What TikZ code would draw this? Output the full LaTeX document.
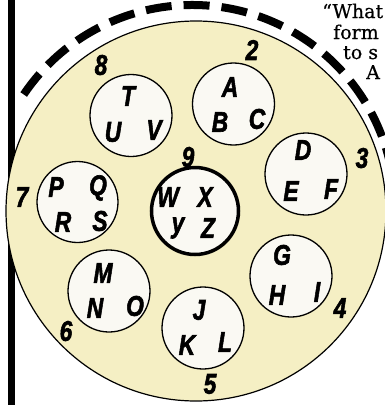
\documentclass[tikz,border=0pt]{standalone}
\usepackage{fontspec}
\newfontfamily\handfont[BoldItalicFeatures={FakeBold=2.2}]{Liberation Sans}
\newfontfamily\slabfont[FakeBold=0.6]{DejaVu Serif}
\definecolor{discc}{RGB}{245,239,196}
\definecolor{holec}{RGB}{250,249,243}
\newcommand\glyph[3]{\node[lettr] (#1) at (#2) {\scalebox{0.8}[1]{#3}};}
\begin{document}
\begin{tikzpicture}[x=1pt,y=-1pt,
  lettr/.style={font=\handfont\bfseries\itshape\fontsize{28.5}{28.5}\selectfont, inner sep=0pt},
  hole/.style={circle, draw, line width=1.3pt, fill=holec, minimum size=82pt, inner sep=0pt},
  slab/.style={font=\slabfont\fontsize{19}{19}\selectfont, inner sep=0pt, anchor=base west},
  dashring/.style={line width=8pt, dash pattern=on 26pt off 12pt}]
\useasboundingbox (0,0) rectangle (385,405);
\clip (0,0) rectangle (385,405);
\fill[white] (0,0) rectangle (385,405);
% left bar
\draw[line width=7pt] (11,0) -- (11,405);
% dashed ring
\draw[dashring] (192,208) ++(-146:203) arc[start angle=-146, end angle=10, radius=203];
% disc
\node[circle, draw, line width=1.2pt, fill=discc, minimum size=380pt, inner sep=0pt] (disc) at (196,211) {};
% holes
\node[hole] (abc) at (233.5,104) {};
\node[hole] (tuv) at (131,115.5) {};
\node[hole] (def) at (306,174) {};
\node[hole, minimum size=81pt] (pqrs) at (77.5,202) {};
\node[hole, line width=3.5pt, minimum size=87pt] (wxyz) at (195,211) {};
\node[hole] (mno) at (109,291) {};
\node[hole] (jkl) at (203,328) {};
\node[hole] (ghi) at (291,276) {};
% letters
\glyph{lA}{230,87}{A}
\glyph{lB}{220,122}{B}
\glyph{lC}{257,119}{C}
\glyph{lT}{128,96}{T}
\glyph{lU}{113,132}{U}
\glyph{lV}{154,130}{V}
\glyph{lD}{303,150}{D}
\glyph{lE}{291,191}{E}
\glyph{lF}{331,189}{F}
\glyph{lP}{56,187}{P}
\glyph{lQ}{98,188}{Q}
\glyph{lR}{63,222}{R}
\glyph{lS}{100,221}{S}
\glyph{lW}{168,197}{W}
\glyph{lX}{205,197}{X}
\glyph{lY}{178,228}{y}
\glyph{lZ}{208,228}{Z}
\glyph{lM}{103,273}{M}
\glyph{lN}{95,308}{N}
\glyph{lO}{135,306}{O}
\glyph{lJ}{199,310}{J}
\glyph{lK}{187,345}{K}
\glyph{lL}{225,342}{L}
\glyph{lG}{282,255}{G}
\glyph{lH}{277,295}{H}
\glyph{lI}{317,292}{I}
% numbers
\glyph{n2}{252,50}{2}
\glyph{n3}{362,158}{3}
\glyph{n4}{340,308}{4}
\glyph{n5}{210,384}{5}
\glyph{n6}{66,331}{6}
\glyph{n7}{22,197}{7}
\glyph{n8}{101,65}{8}
\glyph{n9}{188,157}{9}
% clipped text
\node[slab] (t1) at (322,18) {“What};
\node[slab] (t2) at (333,39) {form};
\node[slab] (t3) at (343,59) {to s};
\node[slab] (t4) at (366,79) {A};
\end{tikzpicture}
\end{document}
